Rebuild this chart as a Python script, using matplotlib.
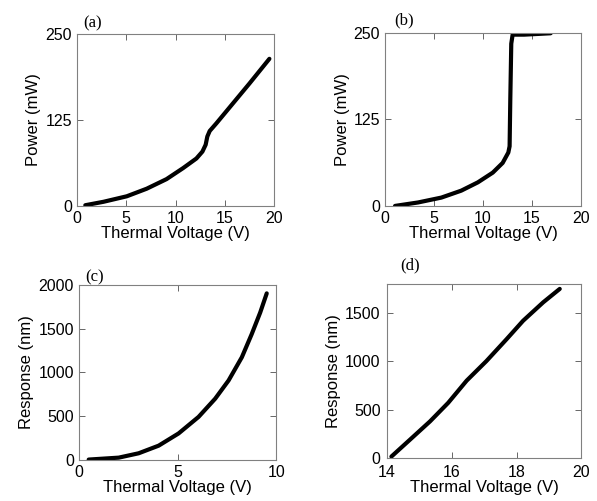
import matplotlib
matplotlib.use("Agg")
import matplotlib.pyplot as plt
import numpy as np

plt.rcParams['font.family'] = ['Liberation Sans', 'DejaVu Sans']

# (a) power vs thermal voltage
volt_a = [0.84, 2.69, 5.05, 7.07, 9.09, 10.77, 12.12, 12.73, 13.06, 13.23, 13.47, 14.14, 15.82, 17.5, 19.53]
power_a = [1, 6, 14, 25, 39, 55, 69, 79, 89, 101, 109, 120, 149, 178, 214]

# (b) power vs thermal voltage, abrupt switch
volt_b = [1.02, 3.38, 5.75, 7.78, 9.48, 11.0, 12.01, 12.59, 12.72, 12.79, 12.89, 13.03, 14.2, 15.57, 16.92]
power_b = [0, 5, 12, 22, 34, 48, 62, 77, 86, 153, 234, 247, 247, 248, 249]

# (c) response vs thermal voltage
volt_c = [0.5, 2.02, 3.03, 4.04, 5.05, 6.06, 6.9, 7.58, 8.25, 8.75, 9.18, 9.51]
resp_c = [4, 26, 76, 163, 303, 492, 700, 909, 1174, 1439, 1686, 1905]

# (d) response vs thermal voltage
volt_d = [14.14, 14.71, 15.33, 15.89, 16.46, 17.07, 17.69, 18.2, 18.82, 19.33]
resp_d = [14, 188, 378, 570, 800, 1003, 1229, 1420, 1611, 1750]

panels = [
    ('(a)', volt_a, power_a, 'Power (mW)', (0, 20), [0, 5, 10, 15, 20], (0, 250), [0, 125, 250]),
    ('(b)', volt_b, power_b, 'Power (mW)', (0, 20), [0, 5, 10, 15, 20], (0, 250), [0, 125, 250]),
    ('(c)', volt_c, resp_c, 'Response (nm)', (0, 10), [0, 5, 10], (0, 2000), [0, 500, 1000, 1500, 2000]),
    ('(d)', volt_d, resp_d, 'Response (nm)', (14, 20), [14, 16, 18, 20], (0, 1800), [0, 500, 1000, 1500]),
]

# axes rectangles in figure fractions
rects = [
    [0.129, 0.589, 0.330, 0.343],
    [0.645, 0.589, 0.328, 0.346],
    [0.132, 0.082, 0.331, 0.349],
    [0.648, 0.086, 0.326, 0.347],
]
tag_pos = [(93, 23), (404, 20), (95, 277), (410, 265)]

fig = plt.figure(figsize=(5.97, 5.01), dpi=100)

for (tag, x, y, ylab, xl, xt, yl, yt), r, tp in zip(panels, rects, tag_pos):
    ax = fig.add_axes(r)
    ax.plot(x, y, color='black', lw=3, solid_capstyle='round', solid_joinstyle='round')
    ax.set_xlim(*xl)
    ax.set_ylim(*yl)
    ax.set_xticks(xt)
    ax.set_yticks(yt)
    ax.tick_params(direction='in', top=True, right=True, length=4, width=0.7,
                   color='0.4', labelsize=11.5, pad=3.5)
    if tag == '(d)':
        # keep "14" clear of the y-axis "0"
        ax.tick_params(axis='x', pad=5)
        ax.tick_params(axis='y', pad=4.5)
    for s in ax.spines.values():
        s.set_color('0.5')
        s.set_linewidth(0.8)
    ax.set_xlabel('Thermal Voltage (V)', fontsize=12, labelpad=0.5 if tag != '(d)' else 0)
    ax.set_ylabel(ylab, fontsize=12, labelpad=3)
    fig.text(tp[0] / 597, 1 - tp[1] / 501, tag, fontsize=12,
             family='Liberation Serif', ha='center', va='center')

fig.savefig('out.png', dpi=100)
